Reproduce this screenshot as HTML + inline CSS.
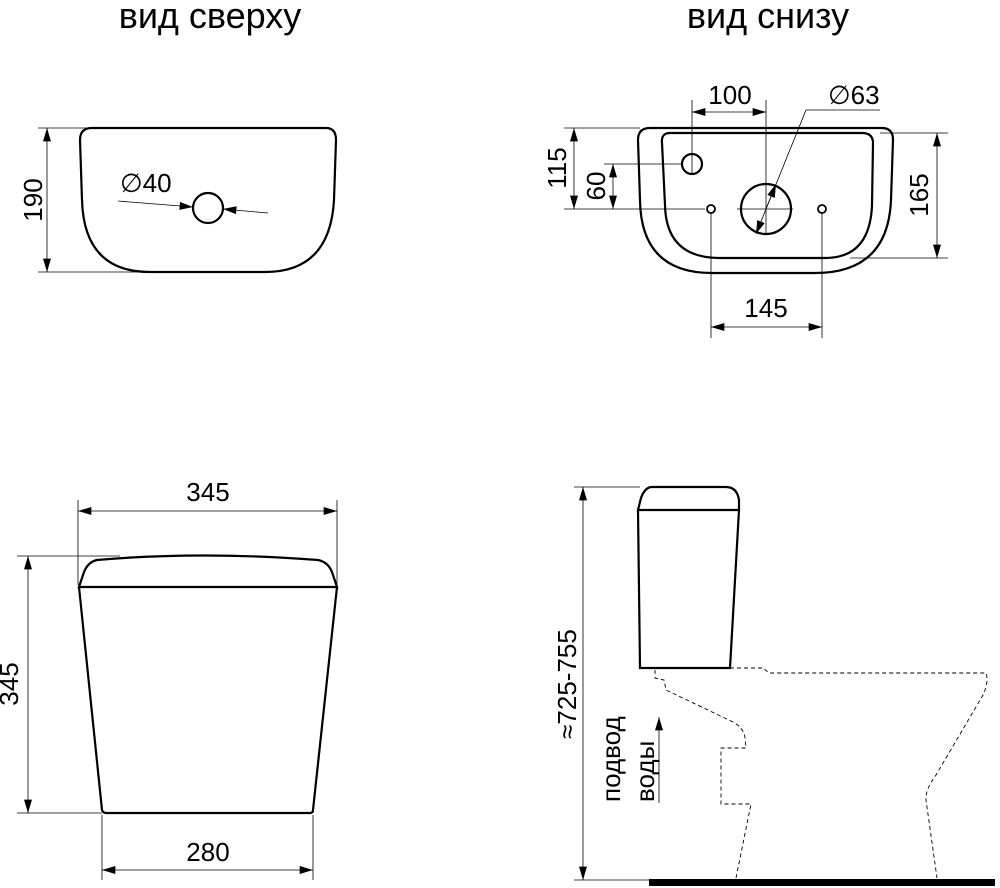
<!DOCTYPE html>
<html><head><meta charset="utf-8"><style>body{margin:0;background:#fff}svg{display:block}</style></head>
<body>
<svg width="1000" height="888" viewBox="0 0 1000 888" xmlns="http://www.w3.org/2000/svg" font-family="Liberation Sans, DejaVu Sans, sans-serif">
<defs>
<marker id="a" viewBox="0 0 10 6" refX="10" refY="3" markerWidth="18" markerHeight="8" markerUnits="userSpaceOnUse" orient="auto"><path d="M0,0L10,3L0,6z" fill="#000"/></marker>
</defs>
<g font-size="36" fill="#000">
<text x="210" y="28" text-anchor="middle">вид сверху</text>
<text x="768" y="28" text-anchor="middle">вид снизу</text>
</g>
<!-- top view -->
<g fill="none" stroke="#000" stroke-width="2.2">
<path d="M92,128 L326,128 Q336,128 336,140 L334,200 Q330,272 265,272 L150,272 Q84,272 82,200 L80,140 Q80,128 92,128Z"/>
<circle cx="208" cy="208" r="15"/>
</g>
<g stroke="#000" stroke-width="0.8" fill="none">
<line x1="38" y1="128" x2="90" y2="128"/><line x1="38" y1="272" x2="150" y2="272"/>
<line x1="47" y1="200" x2="47" y2="128" marker-end="url(#a)"/>
<line x1="47" y1="200" x2="47" y2="272" marker-end="url(#a)"/>
<line x1="118" y1="201" x2="193" y2="207" marker-end="url(#a)"/>
<line x1="268" y1="213" x2="223" y2="209" marker-end="url(#a)"/>
</g>
<g font-size="26"><text x="120" y="192">∅40</text>
<text transform="translate(42,200) rotate(-90)" text-anchor="middle">190</text></g>
<!-- bottom view -->
<g fill="none" stroke="#000" stroke-width="2.2">
<path d="M650,128 L882,128 Q893,128 893,140 L891,200 Q888,273 815,273 L712,273 Q641,273 640,200 L638,140 Q638,128 650,128Z"/>
<path d="M670,133 L862,133 Q873,133 873,143 L872,205 Q870,258 825,258 L720,258 Q666,258 665,205 L662,143 Q661,133 670,133Z"/>
<circle cx="692" cy="164" r="10"/>
<circle cx="766" cy="209" r="25"/>
<circle cx="711" cy="209" r="4" stroke-width="1.8"/>
<circle cx="822" cy="209" r="4" stroke-width="1.8"/>
</g>
<g stroke="#000" stroke-width="0.8" fill="none">
<line x1="692" y1="100" x2="692" y2="174"/><line x1="766" y1="100" x2="766" y2="235"/>
<line x1="729" y1="112" x2="692" y2="112" marker-end="url(#a)"/><line x1="729" y1="112" x2="766" y2="112" marker-end="url(#a)"/>
<line x1="564" y1="128" x2="640" y2="128"/><line x1="564" y1="209" x2="705" y2="209"/>
<line x1="737" y1="209" x2="793" y2="209"/>
<line x1="574" y1="168" x2="574" y2="128" marker-end="url(#a)"/><line x1="574" y1="168" x2="574" y2="209" marker-end="url(#a)"/>
<line x1="604" y1="164" x2="682" y2="164"/>
<line x1="613" y1="186" x2="613" y2="164" marker-end="url(#a)"/><line x1="613" y1="186" x2="613" y2="209" marker-end="url(#a)"/>
<line x1="880" y1="133" x2="948" y2="133"/><line x1="850" y1="258" x2="948" y2="258"/>
<line x1="937" y1="195" x2="937" y2="133" marker-end="url(#a)"/><line x1="937" y1="195" x2="937" y2="258" marker-end="url(#a)"/>
<line x1="711" y1="213" x2="711" y2="338"/><line x1="822" y1="213" x2="822" y2="338"/>
<line x1="766" y1="327" x2="711" y2="327" marker-end="url(#a)"/><line x1="766" y1="327" x2="822" y2="327" marker-end="url(#a)"/>
<line x1="880" y1="110" x2="806" y2="110"/>
<line x1="806" y1="110" x2="766" y2="209"/>
<line x1="766" y1="209" x2="756" y2="234" marker-end="url(#a)"/>
<line x1="766" y1="209" x2="776" y2="184" marker-end="url(#a)"/>
</g>
<g font-size="26">
<text x="730" y="104" text-anchor="middle">100</text>
<text x="828" y="104">∅63</text>
<text x="766" y="317" text-anchor="middle">145</text>
<text transform="translate(566,168) rotate(-90)" text-anchor="middle">115</text>
<text transform="translate(605,186) rotate(-90)" text-anchor="middle">60</text>
<text transform="translate(928,195) rotate(-90)" text-anchor="middle">165</text>
</g>
<!-- front view -->
<g fill="none" stroke="#000" stroke-width="2.2">
<path d="M79,587 L84,572 Q88,562 97,560 Q200,551 318,560 Q328,562 332,572 L337,587Z"/>
<path d="M79,587 L102,810 Q103,813 106,813 L310,813 Q313,813 313,810 L337,587"/>
</g>
<g stroke="#000" stroke-width="0.8" fill="none">
<line x1="78" y1="500" x2="78" y2="585"/><line x1="337" y1="500" x2="337" y2="585"/>
<line x1="208" y1="511" x2="78" y2="511" marker-end="url(#a)"/><line x1="208" y1="511" x2="337" y2="511" marker-end="url(#a)"/>
<line x1="17" y1="556" x2="120" y2="556"/><line x1="17" y1="813" x2="102" y2="813"/>
<line x1="28" y1="684" x2="28" y2="556" marker-end="url(#a)"/><line x1="28" y1="684" x2="28" y2="813" marker-end="url(#a)"/>
<line x1="102" y1="815" x2="102" y2="880"/><line x1="313" y1="815" x2="313" y2="880"/>
<line x1="208" y1="870" x2="102" y2="870" marker-end="url(#a)"/><line x1="208" y1="870" x2="313" y2="870" marker-end="url(#a)"/>
</g>
<g font-size="26">
<text x="208" y="501" text-anchor="middle">345</text>
<text x="208" y="861" text-anchor="middle">280</text>
<text transform="translate(18,684) rotate(-90)" text-anchor="middle">345</text>
</g>
<!-- side view -->
<g fill="none" stroke="#000" stroke-width="2.2">
<path d="M638,510 L641,498 Q645,487 652,487 L726,487 Q737,487 739,500 L739,510Z"/>
<path d="M638,510 L640,668 L730,668 L739,510"/>
</g>
<g fill="none" stroke="#000" stroke-width="0.9" stroke-dasharray="4,3">
<path d="M655,670 L655,678 L664,680 L666,690 L733,722 Q744,728 745,738 L746,748 L721,748 L721,804 L751,804 L736,878"/>
<path d="M730,668 L763,668 L769,673 L986,673 Q989,682 983,695 L936,775 Q925,790 926,800 L937,878"/>
</g>
<rect x="649" y="879" width="346" height="7" fill="#000"/>
<g stroke="#000" stroke-width="0.8" fill="none">
<line x1="574" y1="487" x2="640" y2="487"/><line x1="574" y1="880" x2="660" y2="880"/>
<line x1="583" y1="680" x2="583" y2="487" marker-end="url(#a)"/><line x1="583" y1="680" x2="583" y2="880" marker-end="url(#a)"/>
<line x1="659" y1="803" x2="659" y2="717" marker-end="url(#a)"/>
</g>
<g font-size="26">
<text transform="translate(576,684) rotate(-90)" text-anchor="middle">≈725-755</text>
</g>
<g font-size="26">
<text transform="translate(620,802) rotate(-90)">подвод</text>
<text transform="translate(654,802) rotate(-90)">воды</text>
</g>
</svg>
</body></html>
